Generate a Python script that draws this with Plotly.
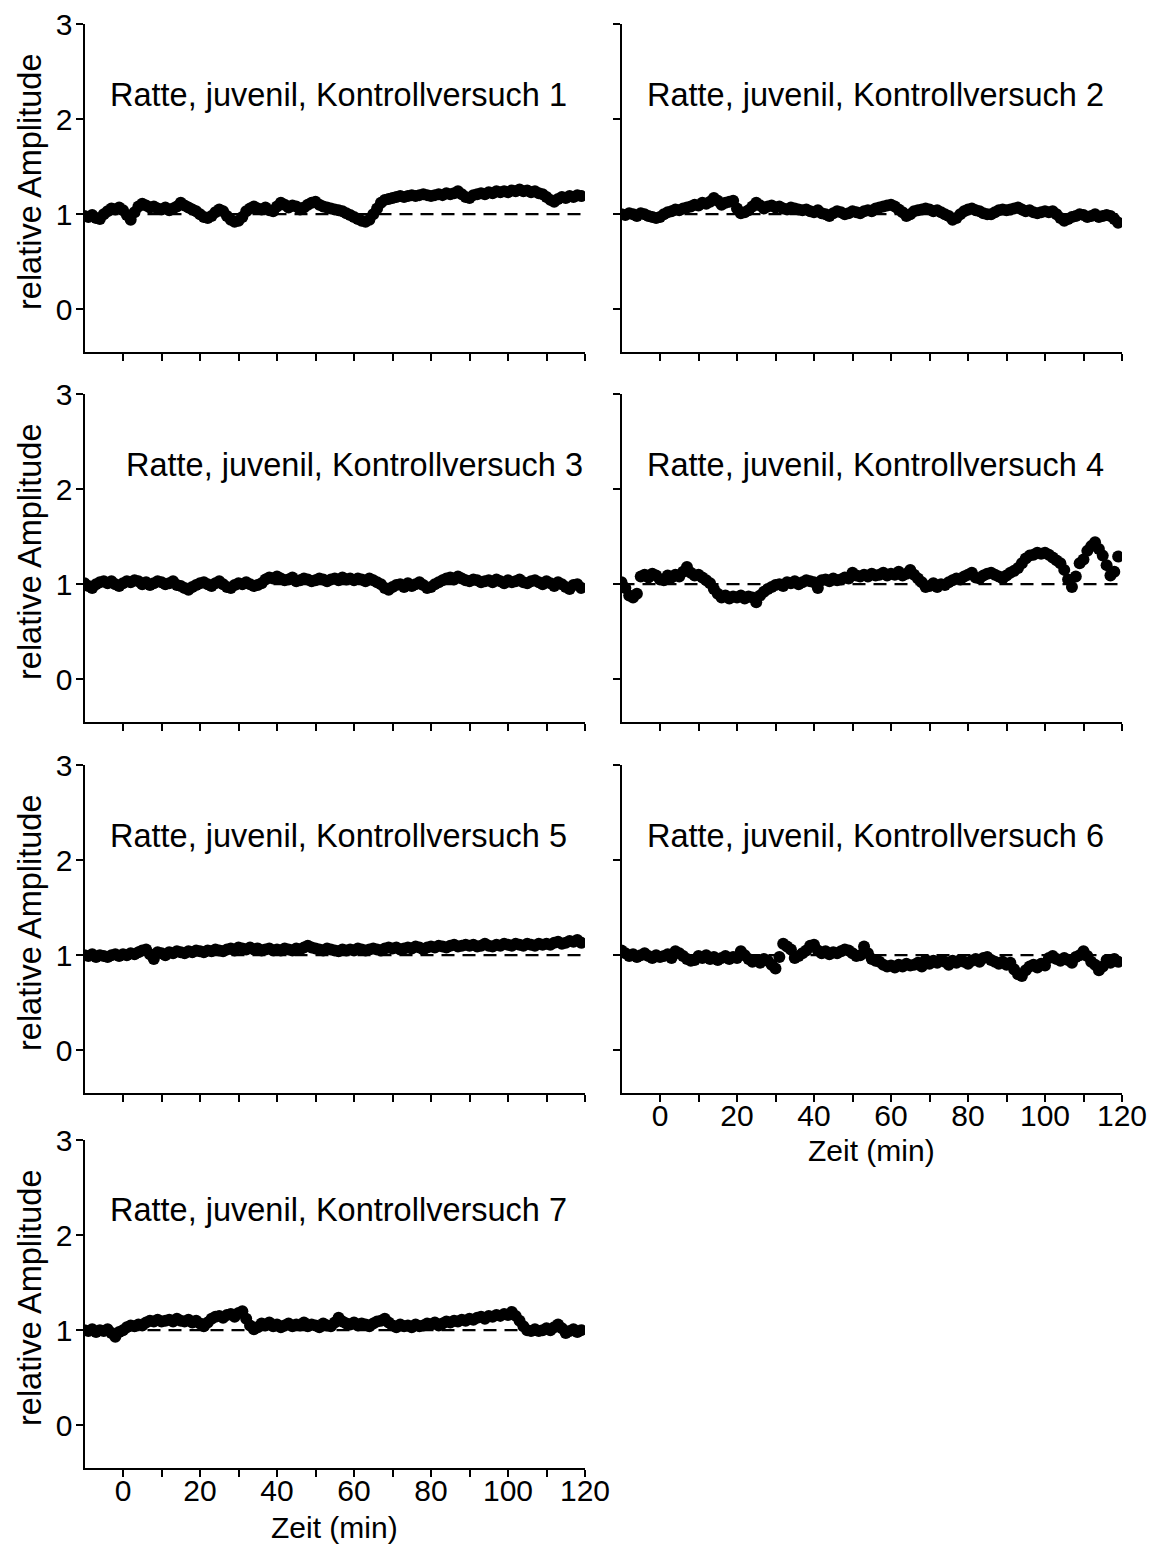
import plotly.graph_objects as go

# time axis (min), one point per minute
time_min = list(range(-10, 120))

titles = [
    "Ratte, juvenil, Kontrollversuch 1",
    "Ratte, juvenil, Kontrollversuch 2",
    "Ratte, juvenil, Kontrollversuch 3",
    "Ratte, juvenil, Kontrollversuch 4",
    "Ratte, juvenil, Kontrollversuch 5",
    "Ratte, juvenil, Kontrollversuch 6",
    "Ratte, juvenil, Kontrollversuch 7",
]

amp_1 = [0.98, 0.97, 0.99, 0.96, 0.95, 1.00, 1.03, 1.06, 1.05, 1.07,
         1.04, 0.99, 0.94, 1.02, 1.08, 1.11, 1.09, 1.07, 1.08, 1.06,
         1.05, 1.07, 1.04, 1.06, 1.08, 1.12, 1.09, 1.07, 1.05, 1.03,
         1.00, 0.97, 0.96, 0.98, 1.02, 1.05, 1.03, 0.98, 0.94, 0.92,
         0.93, 0.97, 1.03, 1.06, 1.08, 1.06, 1.05, 1.07, 1.04, 1.03,
         1.08, 1.12, 1.10, 1.07, 1.09, 1.08, 1.05, 1.07, 1.10, 1.12,
         1.13, 1.10, 1.08, 1.07, 1.06, 1.05, 1.04, 1.03, 1.01, 0.99,
         0.97, 0.95, 0.93, 0.92, 0.94, 1.00, 1.06, 1.12, 1.15, 1.16,
         1.17, 1.18, 1.19, 1.18, 1.19, 1.20, 1.19, 1.20, 1.21, 1.20,
         1.19, 1.20, 1.21, 1.20, 1.22, 1.21, 1.22, 1.24, 1.21, 1.18,
         1.17, 1.20, 1.21, 1.22, 1.21, 1.23, 1.22, 1.24, 1.23, 1.24,
         1.23, 1.25, 1.24, 1.26, 1.24, 1.25, 1.23, 1.24, 1.22, 1.21,
         1.18, 1.15, 1.13, 1.16, 1.18, 1.17, 1.19, 1.18, 1.20, 1.19]

amp_2 = [1.00, 0.99, 1.01, 1.00, 0.98, 1.01, 1.00, 0.98, 0.97, 0.96,
         0.97, 1.00, 1.02, 1.03, 1.05, 1.04, 1.06, 1.07, 1.08, 1.10,
         1.09, 1.12, 1.11, 1.13, 1.17, 1.14, 1.10, 1.12, 1.13, 1.14,
         1.06, 1.01, 1.02, 1.04, 1.08, 1.12, 1.09, 1.06, 1.08, 1.09,
         1.07, 1.08, 1.06, 1.05, 1.07, 1.06, 1.05, 1.04, 1.05, 1.03,
         1.02, 1.04, 1.01, 1.00, 0.98, 1.01, 1.03, 1.02, 1.00, 1.01,
         1.03, 1.02, 1.01, 1.03, 1.04, 1.03, 1.06, 1.07, 1.08, 1.09,
         1.10, 1.08, 1.05, 1.02, 0.98, 1.00, 1.03, 1.04, 1.05, 1.06,
         1.05, 1.03, 1.04, 1.02, 1.00, 0.98, 0.94, 0.96, 1.00, 1.03,
         1.05, 1.06, 1.04, 1.03, 1.01, 1.00, 1.00, 1.02, 1.04, 1.05,
         1.04, 1.05, 1.06, 1.07, 1.05, 1.03, 1.04, 1.02, 1.01, 1.02,
         1.03, 1.02, 1.03, 1.00, 0.96, 0.93, 0.95, 0.97, 0.98, 1.00,
         0.99, 0.97, 0.98, 1.00, 0.97, 0.98, 0.99, 0.98, 0.95, 0.91]

amp_3 = [1.01, 0.98, 0.96, 1.00, 1.02, 1.03, 1.01, 1.03, 1.00, 0.98,
         1.01, 1.03, 1.02, 1.04, 1.03, 1.00, 1.02, 0.99, 1.01, 1.03,
         1.02, 1.00, 1.01, 1.03, 0.99, 0.98, 0.96, 0.94, 0.97, 0.99,
         1.01, 1.02, 1.00, 0.98, 1.01, 1.03, 1.00, 0.97, 0.96, 0.99,
         1.01, 1.00, 1.02, 1.00, 0.98, 0.99, 1.01, 1.05, 1.07, 1.06,
         1.08, 1.06, 1.04, 1.05, 1.07, 1.03, 1.04, 1.06, 1.05, 1.03,
         1.04, 1.06, 1.05, 1.03, 1.05, 1.06, 1.04, 1.07, 1.05, 1.06,
         1.04, 1.06, 1.05, 1.03, 1.06, 1.04, 1.02, 1.00, 0.96, 0.94,
         0.97, 0.99, 1.00, 0.97, 1.01, 0.98, 1.00, 1.02, 0.99, 0.96,
         0.97, 1.00, 1.02, 1.04, 1.06, 1.07, 1.05, 1.08, 1.06, 1.04,
         1.03, 1.05, 1.04, 1.02, 1.03, 1.04, 1.02, 1.05, 1.03, 1.01,
         1.04, 1.02, 1.03, 1.05, 1.02, 1.01, 1.03, 1.04, 1.02, 1.00,
         1.03, 1.01, 0.98, 1.02, 1.00, 0.97, 0.95, 0.99, 1.00, 0.96]

amp_4 = [1.02, 0.96, 0.88, 0.86, 0.90, 1.08, 1.10, 1.07, 1.11, 1.09,
         1.05, 1.04, 1.09, 1.07, 1.10, 1.08, 1.13, 1.18, 1.12, 1.09,
         1.10, 1.07, 1.04, 1.01, 0.95, 0.90, 0.86, 0.88, 0.85, 0.87,
         0.86, 0.88, 0.85, 0.87, 0.86, 0.81, 0.88, 0.92, 0.95, 0.97,
         0.99, 1.00, 0.98, 1.02, 1.01, 1.03, 1.00, 1.02, 1.04, 1.03,
         1.02, 0.96, 1.04, 1.05, 1.03, 1.06, 1.04, 1.05, 1.07, 1.06,
         1.12, 1.09, 1.08, 1.10, 1.08, 1.11, 1.09, 1.10, 1.12, 1.09,
         1.11, 1.10, 1.13, 1.09, 1.11, 1.15, 1.10, 1.06, 1.02, 0.97,
         0.98, 1.01, 0.97, 1.00, 0.99, 1.02, 1.04, 1.06, 1.05, 1.08,
         1.10, 1.12, 1.07, 1.06, 1.09, 1.11, 1.12, 1.10, 1.08, 1.06,
         1.09, 1.12, 1.14, 1.17, 1.22, 1.27, 1.30, 1.31, 1.33, 1.32,
         1.33, 1.31, 1.28, 1.25, 1.22, 1.15, 1.05, 0.97, 1.08, 1.22,
         1.26, 1.35, 1.40, 1.44, 1.37, 1.30, 1.20, 1.09, 1.13, 1.29]

amp_5 = [1.00, 0.99, 1.01, 0.98, 1.00, 0.99, 0.98, 1.00, 1.01, 0.99,
         1.01, 1.00, 1.02, 1.01, 1.03, 1.05, 1.06, 1.01, 0.96, 1.03,
         1.02, 1.00, 1.03, 1.02, 1.04, 1.03, 1.02, 1.04, 1.03, 1.05,
         1.04, 1.03, 1.05, 1.04, 1.06, 1.05, 1.04, 1.06, 1.07, 1.05,
         1.08, 1.07, 1.06, 1.08, 1.06, 1.07, 1.05, 1.06, 1.07, 1.05,
         1.06, 1.05, 1.07, 1.06, 1.05, 1.07, 1.06, 1.08, 1.10, 1.08,
         1.07, 1.06, 1.05, 1.07, 1.06, 1.05, 1.04, 1.06, 1.05, 1.06,
         1.05, 1.07, 1.06, 1.05, 1.06, 1.07, 1.06, 1.05, 1.07, 1.08,
         1.07, 1.08, 1.06, 1.07, 1.08, 1.07, 1.09, 1.08, 1.06, 1.08,
         1.09, 1.08, 1.10, 1.09, 1.08, 1.10, 1.11, 1.09, 1.10, 1.11,
         1.10, 1.11, 1.09, 1.10, 1.12, 1.10, 1.09, 1.11, 1.10, 1.12,
         1.11, 1.10, 1.12, 1.11, 1.10, 1.12, 1.11, 1.10, 1.12, 1.11,
         1.12, 1.11, 1.13, 1.14, 1.12, 1.13, 1.15, 1.14, 1.16, 1.13]

amp_6 = [1.05, 1.02, 0.99, 1.01, 0.98, 1.00, 1.02, 0.99, 0.97, 1.00,
         0.98, 0.99, 1.01, 0.97, 1.04, 1.02, 0.99, 0.96, 0.94, 0.95,
         0.99, 0.97, 1.00, 0.96, 0.98, 0.95, 0.97, 0.99, 0.96, 0.98,
         0.97, 1.04, 1.00, 0.96, 0.93, 0.95, 0.92, 0.96, 0.94, 0.90,
         0.86, 0.98, 1.12, 1.09, 1.06, 0.97, 0.99, 1.02, 1.05, 1.10,
         1.11, 1.05, 1.02, 1.04, 1.01, 1.03, 1.02, 1.04, 1.06, 1.05,
         1.02, 0.99, 1.00, 1.09, 1.02, 0.96, 0.94, 0.93, 0.90, 0.88,
         0.89, 0.87, 0.90, 0.88, 0.91, 0.89, 0.90, 0.92, 0.88, 0.95,
         0.91, 0.94, 0.92, 0.95, 0.93, 0.90, 0.94, 0.92, 0.95, 0.93,
         0.91, 0.94, 0.96, 0.93, 0.97, 0.98, 0.95, 0.93, 0.91, 0.93,
         0.90, 0.92, 0.85, 0.80, 0.78, 0.84, 0.88, 0.90, 0.87, 0.91,
         0.89, 0.97, 0.99, 0.96, 0.94, 0.97, 0.95, 0.92, 0.98, 1.00,
         1.04, 0.99, 0.93, 0.90, 0.84, 0.88, 0.95, 0.92, 0.96, 0.93]

amp_7 = [1.00, 0.99, 1.01, 0.98, 1.00, 0.99, 1.01, 0.97, 0.93, 0.98,
         1.00, 1.03, 1.05, 1.04, 1.06, 1.05, 1.08, 1.10, 1.09, 1.11,
         1.09, 1.10, 1.11, 1.09, 1.12, 1.10, 1.09, 1.11, 1.08, 1.10,
         1.07, 1.04, 1.08, 1.12, 1.14, 1.15, 1.13, 1.16, 1.17, 1.14,
         1.18, 1.20, 1.12, 1.05, 1.01, 1.03, 1.07, 1.05, 1.08, 1.04,
         1.06, 1.03, 1.05, 1.07, 1.04, 1.06, 1.05, 1.08, 1.04, 1.06,
         1.05, 1.03, 1.07, 1.05, 1.04, 1.08, 1.13, 1.09, 1.07, 1.06,
         1.08, 1.05, 1.07, 1.06, 1.04, 1.07, 1.09, 1.10, 1.12, 1.08,
         1.05, 1.03, 1.06, 1.04, 1.05, 1.03, 1.06, 1.04, 1.05, 1.07,
         1.06, 1.08, 1.05, 1.07, 1.09, 1.08, 1.10, 1.09, 1.11, 1.10,
         1.12, 1.11, 1.13, 1.14, 1.12, 1.15, 1.14, 1.16, 1.15, 1.17,
         1.16, 1.19, 1.15, 1.10, 1.04, 1.00, 0.99, 1.01, 0.99, 1.00,
         1.02, 1.00, 1.03, 1.06, 1.02, 0.97, 0.99, 1.01, 0.98, 1.00]

series = [amp_1, amp_2, amp_3, amp_4, amp_5, amp_6, amp_7]

baseline_x = [-10, 120]
baseline_y = [1, 1]

x_ticks = list(range(0, 121, 10))
x_ticktext = [str(v) if v % 20 == 0 else "" for v in x_ticks]
y_ticks = [0, 1, 2, 3]
y_ticktext = ["0", "1", "2", "3"]

x_title = "Zeit (min)"
y_title = "relative Amplitude"

# ---------------- layout geometry ----------------
W, H = 1157, 1555
OFF = 8  # page body margin of the rendered html
FONT = "Liberation Sans, Arial, Helvetica, sans-serif"

col_px = [(84.5, 585.0), (621.5, 1122.0)]
row_px = [(24, 352), (394, 722), (765, 1093), (1140, 1468)]
# panel index -> (row, col)
pos = [(0, 0), (0, 1), (1, 0), (1, 1), (2, 0), (2, 1), (3, 0)]
bottom_panels = {5, 6}  # show x tick labels
text_layout = [("left", 108), ("left", 645), ("right", 585), ("left", 645),
               ("left", 108), ("left", 645), ("left", 108)]
text_y = [95, 465, 836, 1210]


def px_x(v):
    return (v - OFF) / W


def px_y(v):
    return 1 - (v - OFF) / H


fig = go.Figure()
layout = dict(
    width=W, height=H, autosize=False,
    margin=dict(l=0, r=0, t=0, b=0, pad=0, autoexpand=False),
    paper_bgcolor="white", plot_bgcolor="white",
    showlegend=False,
    font=dict(family=FONT, color="black", size=28),
    annotations=[],
)

for i, vals in enumerate(series):
    r, c = pos[i]
    n = i + 1
    xa = "x" if n == 1 else f"x{n}"
    ya = "y" if n == 1 else f"y{n}"
    fig.add_trace(go.Scatter(x=baseline_x, y=baseline_y, mode="lines",
                             line=dict(color="black", width=2.2, dash="13px,8px"),
                             xaxis=xa, yaxis=ya, hoverinfo="skip"))
    fig.add_trace(go.Scatter(x=time_min, y=vals, mode="markers",
                             marker=dict(color="black", size=12,
                                         line=dict(width=0)),
                             xaxis=xa, yaxis=ya))
    x0, x1 = col_px[c]
    y0, y1 = row_px[r]
    xkey = "xaxis" if n == 1 else f"xaxis{n}"
    ykey = "yaxis" if n == 1 else f"yaxis{n}"
    layout[xkey] = dict(
        domain=[px_x(x0), px_x(x1)], anchor=ya, range=[-10, 120],
        automargin=False, ticklabeloverflow="allow",
        showline=True, linecolor="black", linewidth=2,
        ticks="outside", ticklen=7, tickwidth=2, tickcolor="black",
        tickvals=x_ticks, ticktext=x_ticktext,
        showticklabels=(i in bottom_panels), ticklabelstandoff=-12,
        tickfont=dict(size=30, family=FONT, color="black"),
        showgrid=False, zeroline=False,
    )
    layout[ykey] = dict(
        domain=[px_y(y1), px_y(y0)], anchor=xa, range=[-0.45, 3.0],
        automargin=False, ticklabeloverflow="allow",
        showline=True, linecolor="black", linewidth=2,
        ticks="outside", ticklen=7, tickwidth=2, tickcolor="black",
        tickvals=y_ticks, ticktext=y_ticktext,
        showticklabels=(c == 0), ticklabelstandoff=-3,
        tickfont=dict(size=30, family=FONT, color="black"),
        showgrid=False, zeroline=False,
    )
    align, tx = text_layout[i]
    layout["annotations"].append(dict(
        text=titles[i], xref="paper", yref="paper",
        x=px_x(tx), y=px_y(text_y[r]), xanchor=align, yanchor="middle",
        showarrow=False, font=dict(size=32.5, family=FONT, color="black")))
    if c == 0:
        layout["annotations"].append(dict(
            text=y_title, xref="paper", yref="paper", textangle=-90,
            x=px_x(30), y=px_y((y0 + y1) / 2 - 6), xanchor="center", yanchor="middle",
            showarrow=False, font=dict(size=32.5, family=FONT, color="black")))

# x-axis titles below bottom panels
layout["annotations"].append(dict(
    text=x_title, xref="paper", yref="paper",
    x=px_x((col_px[1][0] + col_px[1][1]) / 2), y=px_y(1150),
    xanchor="center", yanchor="middle", showarrow=False,
    font=dict(size=30, family=FONT, color="black")))
layout["annotations"].append(dict(
    text=x_title, xref="paper", yref="paper",
    x=px_x((col_px[0][0] + col_px[0][1]) / 2), y=px_y(1527),
    xanchor="center", yanchor="middle", showarrow=False,
    font=dict(size=30, family=FONT, color="black")))

fig.update_layout(**layout)
fig.write_html("out.html")
